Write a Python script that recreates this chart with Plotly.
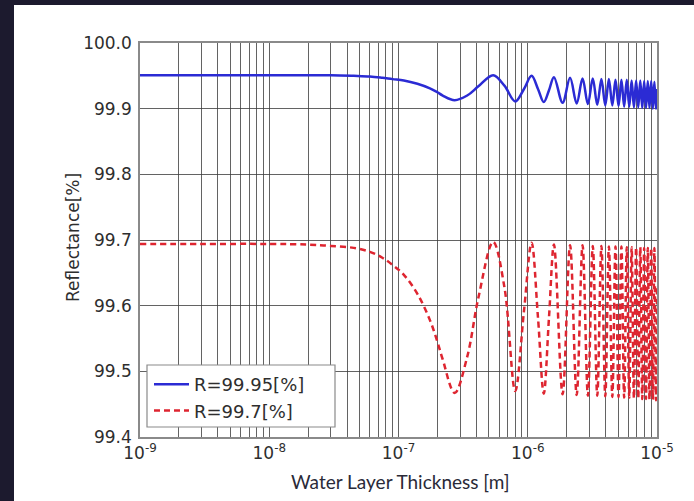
import plotly.graph_objects as go

# ---- data ----
thickness_m = [
    1e-9, 3e-9, 1e-8, 2e-8, 3e-8, 4.5e-8, 6e-8, 7.5e-8, 9e-8, 1.1e-7, 1.4e-7,
    1.75e-7, 2.0e-7, 2.2e-7, 2.72e-7, 3.4e-7, 4.15e-7, 5.4e-7, 6.6e-7, 8.0e-7,
    9.35e-7, 1.07e-6, 1.2e-6, 1.33e-6, 1.46e-6, 1.595e-6, 1.86e-6, 2.125e-6,
    2.39e-6, 2.655e-6, 2.92e-6, 3.185e-6, 3.45e-6, 3.715e-6, 3.98e-6, 4.245e-6,
    4.51e-6, 4.775e-6, 5.04e-6, 5.305e-6, 5.57e-6, 5.835e-6, 6.10e-6, 6.365e-6,
    6.63e-6, 6.895e-6, 7.16e-6, 7.425e-6, 7.69e-6, 7.955e-6, 8.22e-6, 8.485e-6,
    8.75e-6, 9.015e-6, 9.28e-6, 9.545e-6, 9.81e-6, 1e-5,
]

refl_9995 = [
    99.951, 99.951, 99.951, 99.951, 99.951, 99.950, 99.949, 99.947, 99.945, 99.943, 99.938,
    99.931, 99.925, 99.920, 99.913, 99.920, 99.934, 99.951, 99.935, 99.911,
    99.930, 99.950, 99.930, 99.910, 99.928, 99.948, 99.909, 99.947,
    99.908, 99.946, 99.907, 99.946, 99.906, 99.945, 99.905, 99.945,
    99.905, 99.944, 99.904, 99.944, 99.903, 99.944, 99.903, 99.943,
    99.902, 99.943, 99.902, 99.943, 99.901, 99.942, 99.901, 99.942,
    99.901, 99.942, 99.900, 99.941, 99.900, 99.930,
]

refl_997 = [
    99.694, 99.694, 99.694, 99.693, 99.691, 99.688, 99.682, 99.673, 99.662, 99.647, 99.618,
    99.578, 99.545, 99.518, 99.467, 99.522, 99.612, 99.697, 99.628, 99.470,
    99.592, 99.696, 99.582, 99.466, 99.582, 99.693, 99.465, 99.692,
    99.464, 99.692, 99.463, 99.691, 99.463, 99.691, 99.462, 99.690,
    99.461, 99.690, 99.461, 99.690, 99.460, 99.689, 99.460, 99.689,
    99.459, 99.689, 99.459, 99.689, 99.458, 99.688, 99.458, 99.688,
    99.457, 99.688, 99.457, 99.688, 99.456, 99.630,
]

series_names = ["R=99.95[%]", "R=99.7[%]"]
y_ticks = [99.4, 99.5, 99.6, 99.7, 99.8, 99.9, 100.0]
x_decades = [-9, -8, -7, -6, -5]

# ---- x tick positions: decades (major) and 2..9 (minor grid) ----
x_major = [10.0 ** d for d in x_decades]
x_major_text = [f"10<sup>{d}</sup>" for d in x_decades]
x_minor = [m * 10.0 ** d for d in x_decades[:-1] for m in range(2, 10)]

W, H = 694, 501
L, R, T, B = 140, 37, 43, 64
pw, ph = W - L - R, H - T - B


def px_x(x):
    return (x - L) / pw


def px_y(y):
    return (H - B - y) / ph


fig = go.Figure()
fig.add_trace(go.Scatter(
    x=thickness_m, y=refl_9995, mode="lines", name=series_names[0],
    line=dict(color="#2b2bd4", width=2.5, shape="spline", smoothing=1.0),
))
fig.add_trace(go.Scatter(
    x=thickness_m, y=refl_997, mode="lines", name=series_names[1],
    line=dict(color="#de2530", width=2.5, dash="6px,4px", shape="spline", smoothing=1.0),
))

grid_col = "rgba(60,60,60,0.8)"
tick_font = dict(family="DejaVu Sans", size=17, color="#2e2e2e")

fig.update_layout(
    width=W, height=H,
    margin=dict(l=L, r=R, t=T, b=B, autoexpand=False),
    paper_bgcolor="white", plot_bgcolor="white",
    showlegend=True,
    legend=dict(
        x=px_x(149), y=px_y(366), xanchor="left", yanchor="top",
        bgcolor="rgba(0,0,0,0)", borderwidth=0,
        font=dict(family="DejaVu Sans", size=18, color="#2e2e2e"),
        itemwidth=35, tracegroupgap=0,
    ),
    xaxis=dict(
        type="log", range=[-9, -5], tickmode="array",
        tickvals=x_major, ticktext=x_major_text,
        showgrid=True, gridcolor=grid_col, gridwidth=1.3,
        minor=dict(tickmode="array", tickvals=x_minor, showgrid=True,
                   gridcolor=grid_col, gridwidth=1.3, ticks=""),
        showline=True, mirror=True, linecolor="#8a8a8a", linewidth=1.5,
        ticks="", tickfont=tick_font, zeroline=False, automargin=False,
    ),
    yaxis=dict(
        range=[99.4, 100.0], tickmode="array", tickvals=y_ticks,
        ticktext=[f"{v:.1f}" for v in y_ticks],
        showgrid=True, gridcolor=grid_col, gridwidth=1.3,
        showline=True, mirror=True, linecolor="#8a8a8a", linewidth=1.5,
        ticks="", ticklabelstandoff=3, tickfont=tick_font, zeroline=False,
        automargin=False,
    ),
    annotations=[
        dict(text="Reflectance[%]", textangle=-90, xref="paper", yref="paper",
             x=px_x(73), y=px_y(238), xanchor="center", yanchor="middle",
             showarrow=False, font=dict(family="DejaVu Sans", size=17, color="#2e2e2e")),
        dict(text="Water Layer Thickness [m]", xref="paper", yref="paper",
             x=px_x(400), y=px_y(481), xanchor="center", yanchor="middle",
             showarrow=False, font=dict(family="Lato", size=19, color="#2a2a38")),
    ],
    shapes=[
        # legend frame (matplotlib style box)
        dict(type="rect", xref="paper", yref="paper", layer="above",
             x0=px_x(147), x1=px_x(335), y0=px_y(427), y1=px_y(365),
             fillcolor="white", line=dict(color="#8a8a8a", width=1.2)),
        dict(type="rect", xref="paper", yref="paper", layer="above",
             x0=px_x(-5), x1=px_x(14), y0=px_y(H + 5), y1=px_y(-5),
             fillcolor="#1c1a2e", line=dict(width=0)),
        dict(type="rect", xref="paper", yref="paper", layer="above",
             x0=px_x(-5), x1=px_x(W + 5), y0=px_y(5), y1=px_y(-5),
             fillcolor="#1c1a2e", line=dict(width=0)),
    ],
)

fig.write_html("out.html")
